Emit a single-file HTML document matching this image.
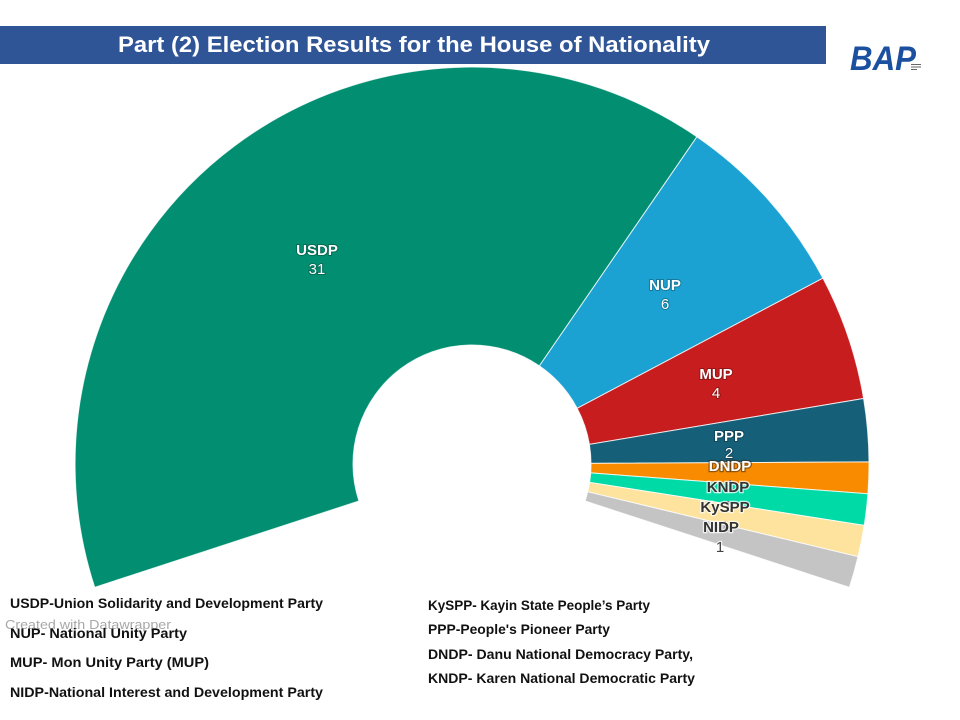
<!DOCTYPE html>
<html>
<head>
<meta charset="utf-8">
<style>
  html, body { margin:0; padding:0; background:#fff; }
  svg { display:block; }
</style>
</head>
<body>
<svg width="960" height="720" viewBox="0 0 960 720" xmlns="http://www.w3.org/2000/svg">
  <rect x="0" y="0" width="960" height="720" fill="#fff"/>

  <!-- Title bar -->
  <rect x="0" y="26" width="826" height="38" fill="#2f5597"/>
  <text x="118" y="52" font-family="Liberation Sans, sans-serif" font-weight="bold" font-size="22" fill="#fff" textLength="592" lengthAdjust="spacingAndGlyphs">Part (2) Election Results for the House of Nationality</text>

  <!-- BAP logo -->
  <text x="850" y="70" font-family="Liberation Sans, sans-serif" font-weight="bold" font-style="italic" font-size="34" fill="#1b4f9f" textLength="66" lengthAdjust="spacingAndGlyphs">BAP</text>
  <rect x="911" y="64" width="10" height="1" fill="#666"/>
  <rect x="911" y="66.5" width="10" height="1" fill="#666"/>
  <rect x="911" y="69" width="6" height="1" fill="#666"/>

  <!-- Donut slices -->
  <g stroke="#ffffff" stroke-width="1" stroke-opacity="0.8">
    <path d="M94.7,587.3 A397,397 0 0 1 696.9,136.8 L539.4,365.9 A119,119 0 0 0 358.9,501.0 Z" fill="#028f71"/>
    <path d="M696.9,136.8 A397,397 0 0 1 822.9,278.2 L577.2,408.3 A119,119 0 0 0 539.4,365.9 Z" fill="#1ba2d2"/>
    <path d="M822.9,278.2 A397,397 0 0 1 863.6,398.5 L589.4,444.4 A119,119 0 0 0 577.2,408.3 Z" fill="#c71d1e"/>
    <path d="M863.6,398.5 A397,397 0 0 1 869.0,461.9 L591.0,463.4 A119,119 0 0 0 589.4,444.4 Z" fill="#155f79"/>
    <path d="M869.0,461.9 A397,397 0 0 1 867.9,493.8 L590.7,472.9 A119,119 0 0 0 591.0,463.4 Z" fill="#f98b00"/>
    <path d="M867.9,493.8 A397,397 0 0 1 864.2,525.4 L589.6,482.4 A119,119 0 0 0 590.7,472.9 Z" fill="#00daa7"/>
    <path d="M864.2,525.4 A397,397 0 0 1 858.0,556.7 L587.7,491.8 A119,119 0 0 0 589.6,482.4 Z" fill="#fde39d"/>
    <path d="M858.0,556.7 A397,397 0 0 1 849.4,587.3 L585.1,501.0 A119,119 0 0 0 587.7,491.8 Z" fill="#c4c4c4"/>
  </g>

  <!-- Slice labels -->
  <g font-family="Liberation Sans, sans-serif" font-size="15" text-anchor="middle">
    <g fill="#fff" stroke="rgba(0,0,0,0.25)" stroke-width="2" paint-order="stroke">
      <text x="317" y="255" font-weight="bold">USDP</text>
      <text x="317" y="274">31</text>
      <text x="665" y="290" font-weight="bold">NUP</text>
      <text x="665" y="309">6</text>
      <text x="716" y="379" font-weight="bold">MUP</text>
      <text x="716" y="398">4</text>
      <text x="729" y="441" font-weight="bold">PPP</text>
      <text x="729" y="458">2</text>
    </g>
    <g fill="#555">
      <text x="730" y="490">1</text>
      <text x="728" y="511">1</text>
      <text x="725" y="531">1</text>
    </g>
    <text x="730" y="471" font-weight="bold" fill="#fff" stroke="rgba(60,40,20,0.55)" stroke-width="2.5" paint-order="stroke">DNDP</text>
    <g fill="#333" stroke="rgba(255,255,255,0.75)" stroke-width="2.5" paint-order="stroke">
      <text x="728" y="492" font-weight="bold">KNDP</text>
      <text x="725" y="512" font-weight="bold">KySPP</text>
      <text x="721" y="532" font-weight="bold">NIDP</text>
      <text x="720" y="552" font-weight="normal" fill="#444">1</text>
    </g>
  </g>

  <!-- Created with Datawrapper -->
  <text x="5" y="629" font-family="Liberation Sans, sans-serif" font-size="13" fill="#a8a8a8" textLength="166" lengthAdjust="spacingAndGlyphs">Created with Datawrapper</text>

  <!-- Legend left -->
  <g font-family="Liberation Sans, sans-serif" font-weight="bold" font-size="14" fill="#111">
    <text x="10" y="608" textLength="313" lengthAdjust="spacingAndGlyphs">USDP-Union Solidarity and Development Party</text>
    <text x="10" y="638" textLength="177" lengthAdjust="spacingAndGlyphs">NUP- National Unity Party</text>
    <text x="10" y="667" textLength="199" lengthAdjust="spacingAndGlyphs">MUP- Mon Unity Party (MUP)</text>
    <text x="10" y="697" textLength="313" lengthAdjust="spacingAndGlyphs">NIDP-National Interest and Development Party</text>
  </g>

  <!-- Legend right -->
  <g font-family="Liberation Sans, sans-serif" font-weight="bold" font-size="14" fill="#111">
    <text x="428" y="610" textLength="222" lengthAdjust="spacingAndGlyphs">KySPP- Kayin State People’s Party</text>
    <text x="428" y="634" textLength="182" lengthAdjust="spacingAndGlyphs">PPP-People's Pioneer Party</text>
    <text x="428" y="659" textLength="265" lengthAdjust="spacingAndGlyphs">DNDP- Danu National Democracy Party,</text>
    <text x="428" y="683" textLength="267" lengthAdjust="spacingAndGlyphs">KNDP- Karen National Democratic Party</text>
  </g>
</svg>
</body>
</html>
